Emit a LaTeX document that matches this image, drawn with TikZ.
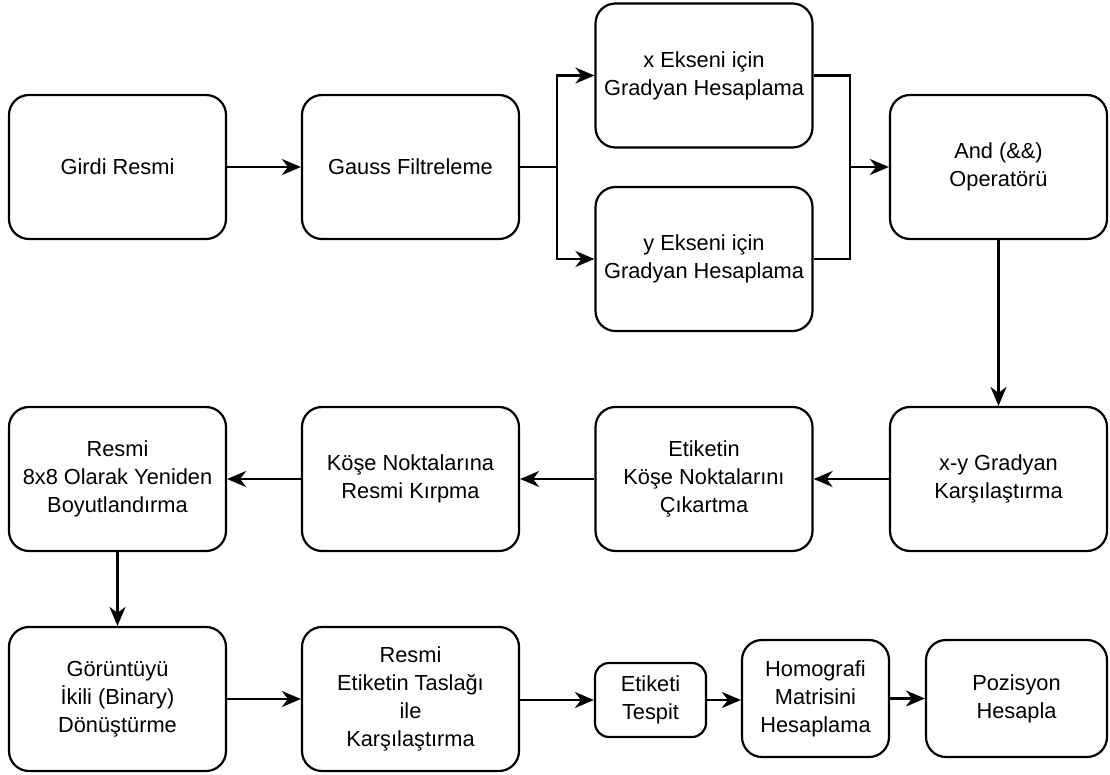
\documentclass[tikz,border=0pt]{standalone}
\usepackage{fontspec}
\setmainfont{Liberation Sans}
\usetikzlibrary{arrows.meta}
\begin{document}
\begin{tikzpicture}[x=1pt,y=-1pt,
  box/.style={draw, fill=white, line width=2.2pt, rounded corners=20pt, align=center, inner sep=0pt,
    minimum width=217pt, minimum height=144pt, font=\fontsize{21.8}{28}\selectfont},
  conn/.style={line width=2.2pt},
  arr/.style={conn, -{Stealth[length=19pt,width=16pt,inset=6pt]}}]
\useasboundingbox (0,0) rectangle (1110,775);
% row 1
\node[box] (girdi) at (117.5,167) {Girdi Resmi};
\node[box] (gauss) at (410.5,167) {Gauss Filtreleme};
\node[box] (xk) at (704,75.5) {x Ekseni için\\Gradyan Hesaplama};
\node[box] (yk) at (704,259) {y Ekseni için\\Gradyan Hesaplama};
\node[box] (and) at (998.5,167) {And (\&\&)\\Operatörü};
% row 2
\node[box] (resize) at (117.5,479) {Resmi\\8x8 Olarak Yeniden\\Boyutlandırma};
\node[box] (kirp) at (410.5,479) {Köşe Noktalarına\\Resmi Kırpma};
\node[box] (kose) at (704,479) {Etiketin\\Köşe Noktalarını\\Çıkartma};
\node[box] (xy) at (998.5,479) {x-y Gradyan\\Karşılaştırma};
% row 3
\node[box] (binary) at (117.5,699) {Görüntüyü\\İkili (Binary)\\Dönüştürme};
\node[box] (taslak) at (410.5,699) {Resmi\\Etiketin Taslağı\\ile\\Karşılaştırma};
\node[box, minimum width=111pt, minimum height=74pt, rounded corners=14pt] (tespit) at (650.5,700) {Etiketi\\Tespit};
\node[box, minimum width=147pt, minimum height=117pt] (homo) at (815.5,698.5) {Homografi\\Matrisini\\Hesaplama};
\node[box, minimum width=181pt, minimum height=117pt] (poz) at (1016.5,698.5) {Pozisyon\\Hesapla};
% junctions
\coordinate (j1) at (557,167);
\coordinate (j2) at (850,167);
% connectors
\draw[arr] (girdi.east) -- (gauss.west);
\draw[conn] (gauss.east) -- (j1);
\draw[arr] (j1) |- (xk.west);
\draw[arr] (j1) |- (yk.west);
\draw[conn] (xk.east) -| (j2);
\draw[conn] (yk.east) -| (j2);
\draw[arr] (j2) -- (and.west);
\draw[arr] (and.south) -- (xy.north);
\draw[arr] (xy.west) -- (kose.east);
\draw[arr] (kose.west) -- (kirp.east);
\draw[arr] (kirp.west) -- (resize.east);
\draw[arr] (resize.south) -- (binary.north);
\draw[arr] (binary.east) -- (taslak.west);
\draw[arr] (taslak.east |- tespit.west) -- (tespit.west);
\draw[arr] (tespit.east) -- (homo.west |- tespit.east);
\draw[arr] (homo.east) -- (poz.west);
\end{tikzpicture}
\end{document}
